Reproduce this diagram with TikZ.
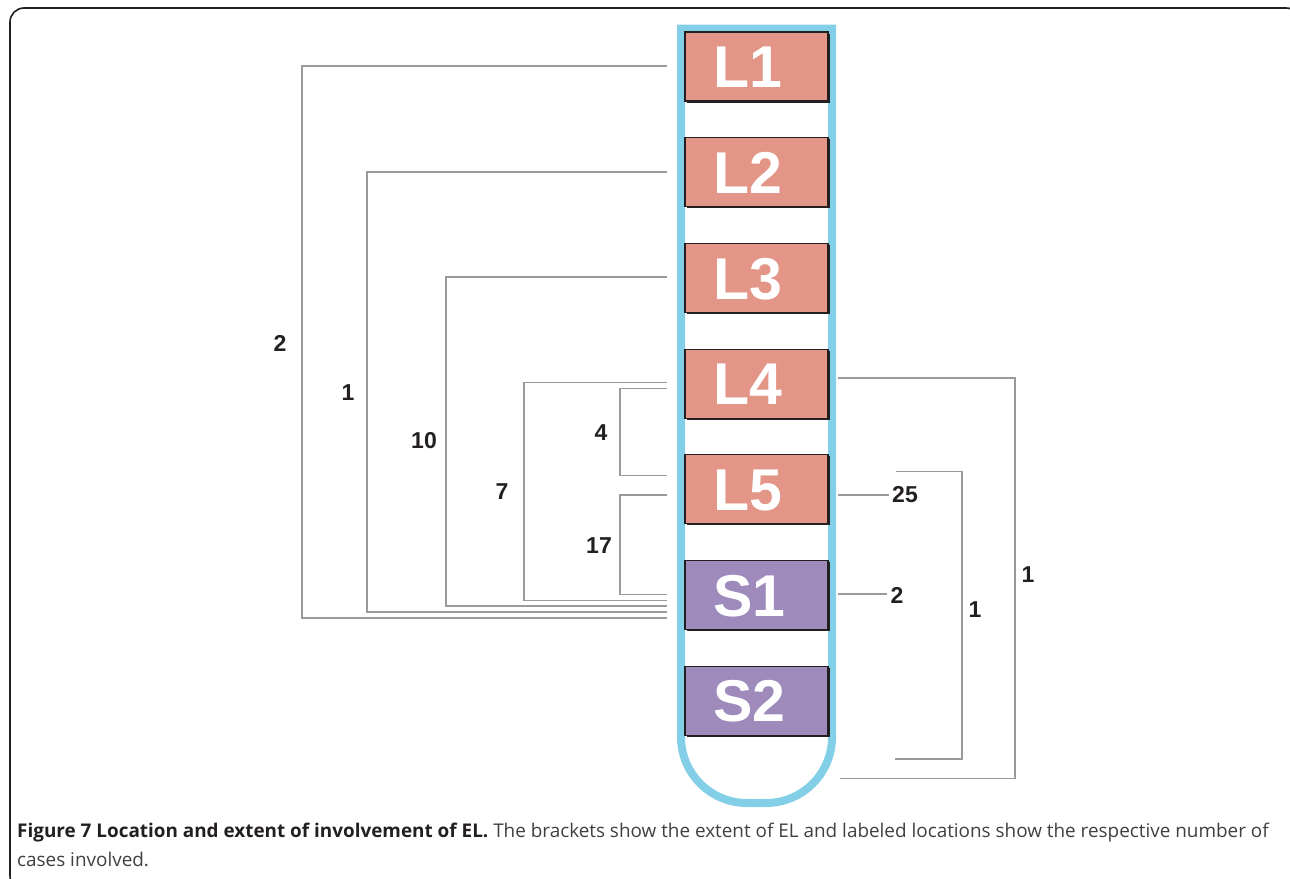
\documentclass[tikz,border=0pt]{standalone}
\usepackage{fontspec}
\setmainfont{Open Sans}
\newfontfamily\arialfont{Liberation Sans}
\definecolor{salmon}{HTML}{E39587}
\definecolor{lilac}{HTML}{9E8BBB}
\definecolor{tubeblue}{HTML}{84CFE8}
\definecolor{brgray}{HTML}{9C999A}
\definecolor{ink}{HTML}{231F20}
\definecolor{captxt}{HTML}{404040}
\tikzset{
  tube/.style={draw=tubeblue, line width=8pt, line join=miter},
  segbox/.style={draw=ink, line width=1.2pt, minimum width=143pt, minimum height=69pt,
    text width=87pt, inner xsep=28pt, inner ysep=0pt, align=left,
    text height=42.5pt, text depth=0pt, text=white,
    font=\arialfont\bfseries\fontsize{59}{59}\selectfont,
    preaction={fill=ink, transform canvas={xshift=1.6pt, yshift=-1.6pt}}},
  lumbar/.style={segbox, fill=salmon},
  sacral/.style={segbox, fill=lilac},
  br/.style={draw=brgray, line width=1.8pt},
  num/.style={text=ink, inner sep=0pt, font=\arialfont\bfseries\fontsize{23}{23}\selectfont},
  captext/.style={anchor=base west, inner sep=0pt, font=\fontsize{18.9}{18.9}\selectfont}
}
\begin{document}
\begin{tikzpicture}[x=1pt,y=-1pt]
\useasboundingbox (0,0) rectangle (1290,878);
% frame
\draw[line width=1.6pt, ink, rounded corners=14pt] (10,8) rectangle (1300,890);
% tube
\draw[tube] (681,28.5) [rounded corners=66pt] -- (681,803) -- (832,803) [sharp corners] -- (832,28.5) -- cycle;
% segments
\node[lumbar] (L1) at (756.5,66.5) {L1};
\node[lumbar] (L2) at (756.5,172.2) {L2};
\node[lumbar] (L3) at (756.5,277.9) {L3};
\node[lumbar] (L4) at (756.5,383.6) {L4};
\node[lumbar] (L5) at (756.5,489.3) {L5};
\node[sacral] (S1) at (756.5,595) {S1};
\node[sacral] (S2) at (756.5,700.7) {S2};
% left bracket end points
\coordinate (a2t) at (667,66);
\coordinate (a2b) at (667,618);
\coordinate (a1t) at (667,172);
\coordinate (a1b) at (667,612);
\coordinate (a10t) at (667,277);
\coordinate (a10b) at (667,606);
\coordinate (a7t) at (667,382.5);
\coordinate (a7b) at (667,600.5);
\coordinate (a4t) at (667,388.5);
\coordinate (a4b) at (667,475.5);
\coordinate (a17t) at (667,495);
\coordinate (a17b) at (667,594.5);
% left brackets
\draw[br] (a2t) -| (302,618) -- (a2b);
\draw[br] (a1t) -| (367,612) -- (a1b);
\draw[br] (a10t) -| (446,606) -- (a10b);
\draw[br] (a7t) -| (524,600.5) -- (a7b);
\draw[br] (a4t) -| (620,475.5) -- (a4b);
\draw[br] (a17t) -| (620,594.5) -- (a17b);
\node[num] (n2) at (280,343) {2};
\node[num] (n1) at (348,393) {1};
\node[num] (n10) at (424,441) {10};
\node[num] (n7) at (502,492) {7};
\node[num] (n4) at (601,433) {4};
\node[num] (n17) at (599,546) {17};
% right side
\coordinate (r1t) at (838,378);
\coordinate (r1b) at (840,778.5);
\coordinate (r2t) at (896,471.5);
\coordinate (r2b) at (895,759);
\coordinate (r25) at (838,495);
\coordinate (rs1) at (838,594);
\draw[br] (r1t) -| (1015,778.5) -- (r1b);
\draw[br] (r2t) -| (962,759) -- (r2b);
\node[num] (m25) at (905,495) {25};
\node[num] (m2) at (897,595) {2};
\draw[br, shorten >=3pt] (r25) -- (r25 -| m25.west);
\draw[br, shorten >=3pt] (rs1) -- (rs1 -| m2.west);
\node[num] (m1a) at (975,610) {1};
\node[num] (m1b) at (1028,575) {1};
% caption
\node[captext] (c1) at (17,837) {\textcolor{ink}{\textbf{Figure 7 Location and extent of involvement of EL.}} \textcolor{captxt}{The brackets show the extent of EL and labeled locations show the respective number of}};
\node[captext] (c2) at (17,866) {\textcolor{captxt}{cases involved.}};
\end{tikzpicture}
\end{document}
